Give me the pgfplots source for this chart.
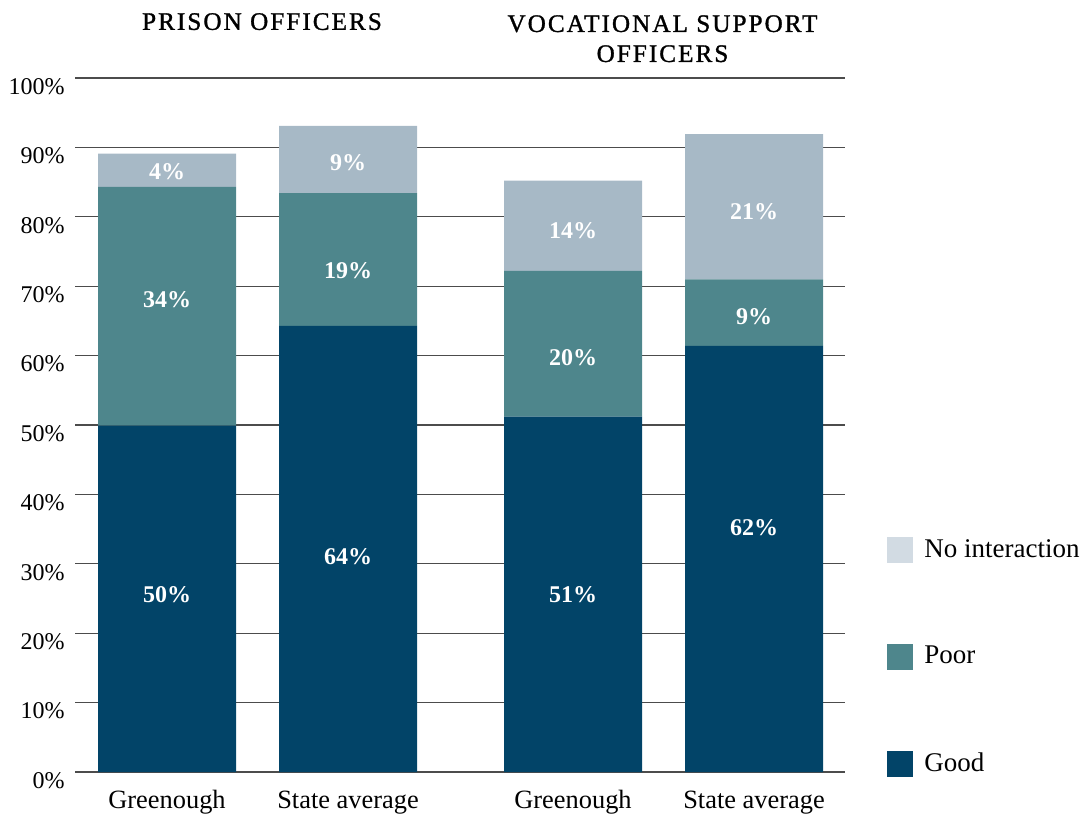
\documentclass[border=0pt]{standalone}
\usepackage{pgfplots}
\pgfplotsset{compat=1.18}
\usepackage{pgfplotstable}
\usepackage{fontspec}
\setmainfont{Liberation Serif}
\newfontfamily\titlefont[LetterSpace=8,FakeBold=1.2]{Liberation Serif}
\definecolor{cgood}{RGB}{2,68,104}
\definecolor{cpoor}{RGB}{78,134,140}
\definecolor{cno}{RGB}{167,185,198}
\definecolor{cnoleg}{RGB}{210,219,227}

\pgfplotstableread{
x good poor none
92 49.9 34.4 4.8
273 64.3 19.1 9.7
498 51.2 21.0 13.0
679 61.4 9.6 20.9
}\data

\pgfplotstableread{
x y label
92 86.5 4\%
92 68.0 34\%
92 25.5 50\%
273 87.8 9\%
273 72.3 19\%
273 31.0 64\%
498 78.0 14\%
498 59.7 20\%
498 25.6 51\%
679 80.8 21\%
679 65.6 9\%
679 35.2 62\%
}\labels

\begin{document}
\begin{tikzpicture}
\path[use as bounding box] (0,0) rectangle (545.5pt,407pt);
\begin{axis}[
  at={(37.5pt,21pt)}, anchor=south west,
  scale only axis, width=385pt, height=347pt,
  xmin=0, xmax=770, ymin=0, ymax=100,
  ybar stacked, bar width=138,
  axis line style={draw=none},
  ymajorgrids, grid style={black!70, line width=0.6pt},
  major tick length=0pt,
  ytick={0,10,...,100},
  yticklabels={0\%,10\%,20\%,30\%,40\%,50\%,60\%,70\%,80\%,90\%,100\%},
  yticklabel style={anchor=north east, inner sep=0pt, xshift=-5pt, font=\fontsize{12}{14}\selectfont},
  xtick={92,273,498,679},
  xticklabels={Greenough,State average,Greenough,State average},
  xticklabel style={anchor=base, inner sep=0pt, yshift=-18pt, font=\fontsize{13.2}{15}\selectfont},
  clip=false,
  legend image code/.code={\fill[#1] (0pt,-6.5pt) rectangle (13pt,6.5pt);},
  legend style={draw=none, fill=none, at={(axis cs:812,34.15)}, anchor=north west,
    inner sep=0pt, row sep=39pt, font=\fontsize{13.5}{15}\selectfont,
    /tikz/every odd column/.append style={column sep=3.5pt}},
  legend cell align=left,
]
\addplot[fill=cgood, draw=none, forget plot] table[x=x, y=good]{\data};
\addplot[fill=cpoor, draw=none, forget plot] table[x=x, y=poor]{\data};
\addplot[fill=cno, draw=none, forget plot] table[x=x, y=none]{\data};
\addlegendimage{fill=cnoleg, draw=none}
\addlegendentry{No interaction}
\addlegendimage{fill=cpoor, draw=none}
\addlegendentry{Poor}
\addlegendimage{fill=cgood, draw=none}
\addlegendentry{Good}
\node[anchor=north, inner sep=0pt, font=\titlefont\fontsize{12.6}{15}\selectfont] at (axis cs:187,109.4) {PRISON OFFICERS};
\node[anchor=north, inner sep=0pt, align=center, font=\titlefont\fontsize{12.6}{15}\selectfont] at (axis cs:587.5,109.1) {VOCATIONAL SUPPORT\\OFFICERS};
\end{axis}
\begin{axis}[
  at={(37.5pt,21pt)}, anchor=south west,
  scale only axis, width=385pt, height=347pt,
  xmin=0, xmax=770, ymin=0, ymax=100,
  hide axis, clip=false,
]
\addplot[draw=none, mark=none, nodes near coords, point meta=explicit symbolic,
  every node near coord/.append style={anchor=center, text=white, font=\bfseries\fontsize{12}{14}\selectfont}]
  table[x=x, y=y, meta=label]{\labels};
\end{axis}
\end{tikzpicture}
\end{document}
